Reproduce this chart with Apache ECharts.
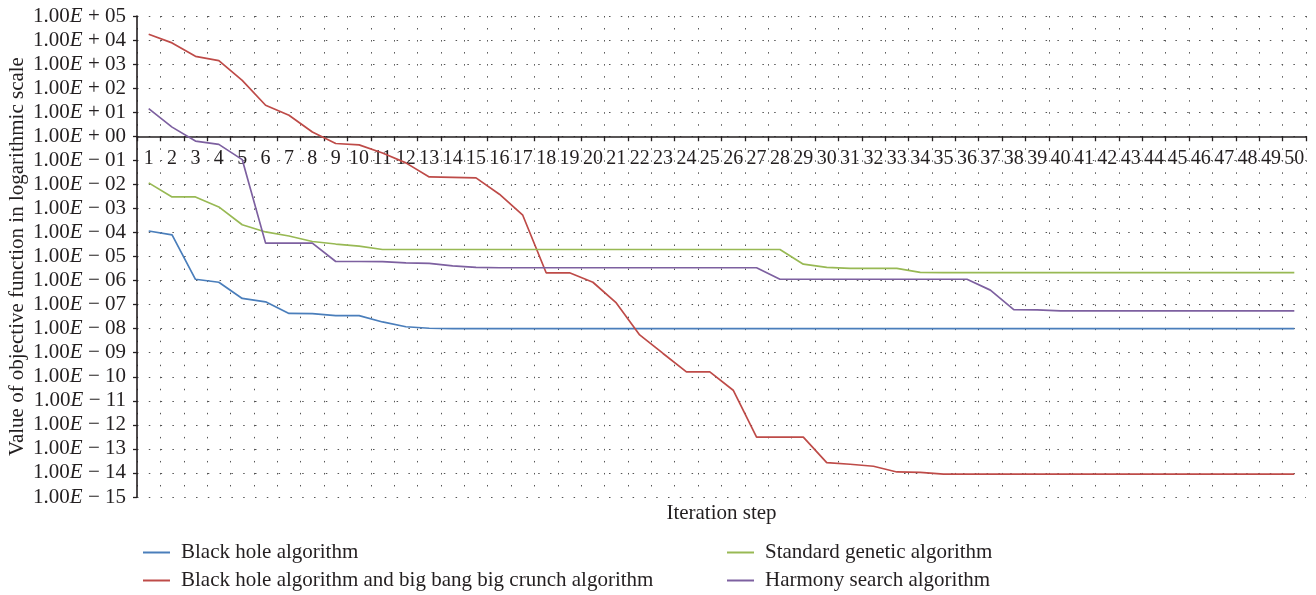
<!DOCTYPE html>
<html>
<head>
<meta charset="utf-8">
<title>Convergence of optimisation algorithms</title>
<script src="https://cdn.jsdelivr.net/npm/echarts@6/dist/echarts.min.js"></script>
<style>
  html, body { margin: 0; padding: 0; background: #ffffff; }
  #chart { width: 1316px; height: 595px; }
</style>
</head>
<body>
<div id="chart"></div>
<script>
// Iteration steps 1..50
const steps = [1,2,3,4,5,6,7,8,9,10,11,12,13,14,15,16,17,18,19,20,21,22,23,24,25,
  26,27,28,29,30,31,32,33,34,35,36,37,38,39,40,41,42,43,44,45,46,47,48,49,50];

// Best objective value per iteration for each algorithm
const blackHole = [1.15e-4,7.9e-5,1.13e-6,8.5e-7,1.8e-7,1.3e-7,4.3e-8,4.2e-8,3.5e-8,3.5e-8,
  1.9e-8,1.2e-8,1.04e-8,1.0e-8,1.0e-8,1.0e-8,1.0e-8,1.0e-8,1.0e-8,1.0e-8,
  1.0e-8,1.0e-8,1.0e-8,1.0e-8,1.0e-8,1.0e-8,1.0e-8,1.0e-8,1.0e-8,1.0e-8,
  1.0e-8,1.0e-8,1.0e-8,1.0e-8,1.0e-8,1.0e-8,1.0e-8,1.0e-8,1.0e-8,1.0e-8,
  1.0e-8,1.0e-8,1.0e-8,1.0e-8,1.0e-8,1.0e-8,1.0e-8,1.0e-8,1.0e-8,1.0e-8];

const blackHoleBigBang = [1.74e4,7.6e3,2.1e3,1.4e3,2.1e2,19.5,7.5,1.5,0.5,0.44,
  0.2,0.078,0.0204,0.0195,0.0185,0.0039,5.2e-4,2.1e-6,2.1e-6,8.5e-7,
  1.17e-7,5.5e-9,9.3e-10,1.6e-10,1.6e-10,2.75e-11,3.1e-13,3.1e-13,3.1e-13,2.7e-14,
  2.3e-14,1.9e-14,1.1e-14,1.05e-14,8.9e-15,8.9e-15,8.9e-15,8.9e-15,8.9e-15,8.9e-15,
  8.9e-15,8.9e-15,8.9e-15,8.9e-15,8.9e-15,8.9e-15,8.9e-15,8.9e-15,8.9e-15,8.9e-15];

const geneticStd = [1.15e-2,3.0e-3,3.0e-3,1.15e-3,2.1e-4,1.05e-4,7.1e-5,4.2e-5,3.3e-5,2.7e-5,
  1.95e-5,1.95e-5,1.95e-5,1.95e-5,1.95e-5,1.95e-5,1.95e-5,1.95e-5,1.95e-5,1.95e-5,
  1.95e-5,1.95e-5,1.95e-5,1.95e-5,1.95e-5,1.95e-5,1.95e-5,1.95e-5,4.8e-6,3.5e-6,
  3.2e-6,3.2e-6,3.2e-6,2.2e-6,2.15e-6,2.15e-6,2.15e-6,2.15e-6,2.15e-6,2.15e-6,
  2.15e-6,2.15e-6,2.15e-6,2.15e-6,2.15e-6,2.15e-6,2.15e-6,2.15e-6,2.15e-6,2.15e-6];

const harmonySearch = [14,2.4,0.63,0.46,0.107,3.6e-5,3.6e-5,3.6e-5,6.2e-6,6.2e-6,
  6.1e-6,5.4e-6,5.2e-6,4.1e-6,3.5e-6,3.4e-6,3.4e-6,3.4e-6,3.4e-6,3.4e-6,
  3.4e-6,3.4e-6,3.4e-6,3.4e-6,3.4e-6,3.4e-6,3.4e-6,1.13e-6,1.13e-6,1.13e-6,
  1.13e-6,1.13e-6,1.13e-6,1.13e-6,1.13e-6,1.13e-6,4.0e-7,6.2e-8,6.0e-8,5.5e-8,
  5.5e-8,5.5e-8,5.5e-8,5.5e-8,5.5e-8,5.5e-8,5.5e-8,5.5e-8,5.5e-8,5.5e-8];

const seriesNames = [
  'Black hole algorithm',
  'Black hole algorithm and big bang big crunch algorithm',
  'Standard genetic algorithm',
  'Harmony search algorithm'
];
const seriesColors = ['#4a7ebb', '#be4b48', '#98b954', '#7d60a0'];

const yAxisTitle = 'Value of objective function in logarithmic scale';
const xAxisTitle = 'Iteration step';

const SERIF = '"Liberation Serif", "Times New Roman", serif';
const TEXT = '#231f20';

// Grid geometry: 20 decades (1e-15 .. 1e5) over the plot height
const GRID_TOP = 16, GRID_H = 481;
const DECADE = GRID_H / 20;

function sciLabel(v) {
  const e = Math.round(Math.log10(v));
  const sign = e < 0 ? '\u2212' : '+';
  const mag = String(Math.abs(e)).padStart(2, '0');
  return '1.00{e|E} ' + sign + ' ' + mag;
}

const chart = echarts.init(document.getElementById('chart'), null, { renderer: 'canvas' });

const series = [blackHole, blackHoleBigBang, geneticStd, harmonySearch].map((d, i) => ({
  name: seriesNames[i],
  type: 'line',
  data: d,
  symbol: 'none',
  smooth: false,
  color: seriesColors[i],
  lineStyle: { width: 1.7, color: seriesColors[i] },
  z: 3
}));

// One legend entry per slot: two columns, two rows
const legendSlots = [
  { left: 138, top: 537 },
  { left: 138, top: 565 },
  { left: 722, top: 537 },
  { left: 722, top: 565 }
];
const legends = seriesNames.map((name, i) => ({
  left: legendSlots[i].left,
  top: legendSlots[i].top,
  icon: 'rect',
  itemWidth: 27,
  itemHeight: 2,
  itemGap: 0,
  data: [name],
  itemStyle: { color: seriesColors[i] },
  textStyle: { color: TEXT, fontFamily: SERIF, fontSize: 21, padding: [0, 0, 0, 6] }
}));

chart.setOption({
  animation: false,
  backgroundColor: '#ffffff',
  grid: { left: 137, right: 10, top: GRID_TOP, height: GRID_H,
    containLabel: false, outerBoundsMode: 'none' },
  xAxis: [
    {
      type: 'category',
      data: steps,
      boundaryGap: true,
      position: 'bottom',
      // axis crosses the value axis at 1.00E + 00
      offset: -15 * DECADE,
      axisLine: { show: true, lineStyle: { color: '#231f20', width: 1.6 } },
      axisTick: { show: true, inside: false, length: 5, alignWithLabel: false,
        lineStyle: { color: '#231f20', width: 1.3 } },
      axisLabel: { interval: 0, margin: 12, color: TEXT, fontFamily: SERIF, fontSize: 20 },
      splitLine: { show: true, interval: 0,
        lineStyle: { color: '#555555', width: 1, type: [1.5, DECADE / 2 - 1.5] } }
    },
    {
      type: 'category',
      data: steps,
      position: 'bottom',
      name: xAxisTitle,
      nameLocation: 'middle',
      nameGap: 6,
      nameMoveOverlap: false,
      nameTextStyle: { color: TEXT, fontFamily: SERIF, fontSize: 21, verticalAlign: 'top' },
      axisLine: { show: false },
      axisTick: { show: false },
      axisLabel: { show: false },
      splitLine: { show: false }
    }
  ],
  yAxis: {
    type: 'log',
    logBase: 10,
    min: 1e-15,
    max: 1e5,
    interval: 1,
    name: yAxisTitle,
    nameLocation: 'middle',
    nameRotate: 90,
    nameGap: 109,
    nameMoveOverlap: false,
    nameTextStyle: { color: TEXT, fontFamily: SERIF, fontSize: 21 },
    axisLine: { show: true, lineStyle: { color: '#231f20', width: 1.6 } },
    axisTick: { show: true, inside: false, length: 4, lineStyle: { color: '#231f20', width: 1.3 } },
    axisLabel: {
      margin: 11,
      color: TEXT,
      fontFamily: SERIF,
      fontSize: 21,
      formatter: sciLabel,
      rich: { e: { fontStyle: 'italic', fontFamily: SERIF, fontSize: 21, color: TEXT } }
    },
    splitLine: { show: true, lineStyle: { color: '#555555', width: 1, type: [1.5, 10.3] } },
    minorSplitLine: { show: false }
  },
  legend: legends,
  series: series
});
</script>
</body>
</html>
